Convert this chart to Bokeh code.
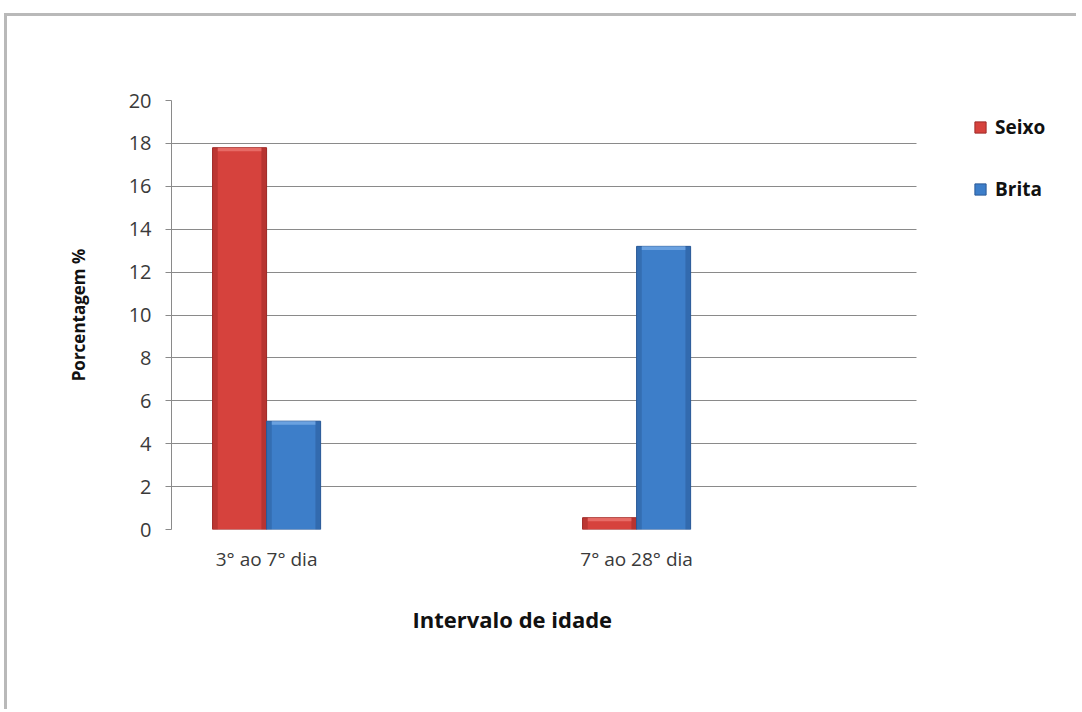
from bokeh.plotting import figure
from bokeh.models import Legend, LegendItem, FixedTicker, Range1d, Title
from bokeh.embed import file_html
from bokeh.resources import INLINE

# data
categories = ["3° ao 7° dia", "7° ao 28° dia"]
seixo = [17.8, 0.55]
brita = [5.05, 13.2]
y_ticks = [0, 2, 4, 6, 8, 10, 12, 14, 16, 18, 20]
series_names = ["Seixo", "Brita"]

FONT = "Open Sans"
RED = "#d6423d"
RED_DARK = "#9e2a28"
RED_LIGHT = "#ee7d78"
BLUE = "#3d7ec9"
BLUE_DARK = "#2a5a97"
BLUE_LIGHT = "#7db0ea"

# plot area spans 0.743..2.757 in category units; the frame continues to the
# right so the legend can sit beside the gridlines
X_LO, X_HI = 0.743, 2.757
PX_PER_UNIT = 370.0

W, H = 1072, 696
FRAME_W = W - 164 - 4
p = figure(width=W, height=H, output_backend="svg", toolbar_location=None,
           x_range=Range1d(X_LO, X_LO + FRAME_W / PX_PER_UNIT),
           y_range=Range1d(0, 20),
           min_border_left=164, min_border_right=4,
           min_border_top=84, min_border_bottom=183)
p.margin = (13, 0, 0, 4)
p.styles = {"border-top": "3px solid #b9b9b9", "border-left": "3px solid #b9b9b9"}
p.outline_line_color = None
p.background_fill_color = "white"
p.border_fill_color = "white"

xs = [i + 1 for i in range(len(categories))]
bw = 0.146
edge = 0.014
cap = 0.17


def draw_bars(vals, offset, base, dark, light):
    lefts = [x + offset - bw / 2 for x in xs]
    rights = [x + offset + bw / 2 for x in xs]
    main = p.quad(left=lefts, right=rights, bottom=0, top=vals,
                  fill_color=base, line_color=dark, line_width=1)
    # side shading for a bevelled look
    p.quad(left=lefts, right=[l + edge for l in lefts], bottom=0, top=vals,
           fill_color=dark, fill_alpha=0.45, line_color=None)
    p.quad(left=[r - edge for r in rights], right=rights, bottom=0, top=vals,
           fill_color=dark, fill_alpha=0.55, line_color=None)
    p.quad(left=[l + edge for l in lefts], right=[r - edge for r in rights],
           bottom=[max(v - cap, 0) for v in vals], top=vals,
           fill_color=light, fill_alpha=0.7, line_color=None)
    return main


r_seixo = draw_bars(seixo, -bw / 2, RED, RED_DARK, RED_LIGHT)
r_brita = draw_bars(brita, bw / 2, BLUE, BLUE_DARK, BLUE_LIGHT)

# grid
p.xgrid.grid_line_color = None
p.ygrid.ticker = FixedTicker(ticks=y_ticks)
p.ygrid.grid_line_color = "#8a8a8a"
p.ygrid.grid_line_width = 1
p.ygrid.level = "underlay"
p.ygrid.cross_bounds = (X_LO, X_HI)

# y axis
p.yaxis.ticker = FixedTicker(ticks=y_ticks)
p.yaxis.axis_line_color = "#8a8a8a"
p.yaxis.major_tick_line_color = "#8a8a8a"
p.yaxis.major_tick_out = 6
p.yaxis.major_tick_in = 0
p.yaxis.minor_tick_line_color = None
p.yaxis.major_label_text_font = FONT
p.yaxis.major_label_text_font_size = "20px"
p.yaxis.major_label_text_color = "#3a3a3a"
p.yaxis.major_label_standoff = 14
p.yaxis.axis_label = "Porcentagem %"
p.yaxis.axis_label_text_font = FONT
p.yaxis.axis_label_text_font_size = "17px"
p.yaxis.axis_label_text_font_style = "bold"
p.yaxis.axis_label_text_color = "#111111"
p.yaxis.axis_label_standoff = 36

# x axis
p.xaxis.ticker = FixedTicker(ticks=xs)
p.xaxis.major_label_overrides = {x: c for x, c in zip(xs, categories)}
p.xaxis.axis_line_color = None
p.xaxis.major_tick_line_color = None
p.xaxis.minor_tick_line_color = None
p.xaxis.major_label_text_font = FONT
p.xaxis.major_label_text_font_size = "19px"
p.xaxis.major_label_text_color = "#3a3a3a"
p.xaxis.major_label_standoff = 10

xtitle = Title(text="Intervalo de idade", align="left", offset=241,
               text_font=FONT, text_font_size="22px", text_font_style="bold",
               text_color="#111111", standoff=55)
p.add_layout(xtitle, "below")

legend = Legend(items=[LegendItem(label=series_names[0], renderers=[r_seixo]),
                       LegendItem(label=series_names[1], renderers=[r_brita])],
                location=(802, 327), orientation="vertical",
                padding=0, margin=0, spacing=36,
                glyph_width=14, glyph_height=14, label_height=20,
                label_standoff=8, label_text_font=FONT,
                label_text_font_size="19px", label_text_font_style="bold",
                label_text_color="#111111",
                border_line_alpha=0, background_fill_alpha=0)
p.add_layout(legend, "center")

open("out.html", "w").write(file_html(p, INLINE))
